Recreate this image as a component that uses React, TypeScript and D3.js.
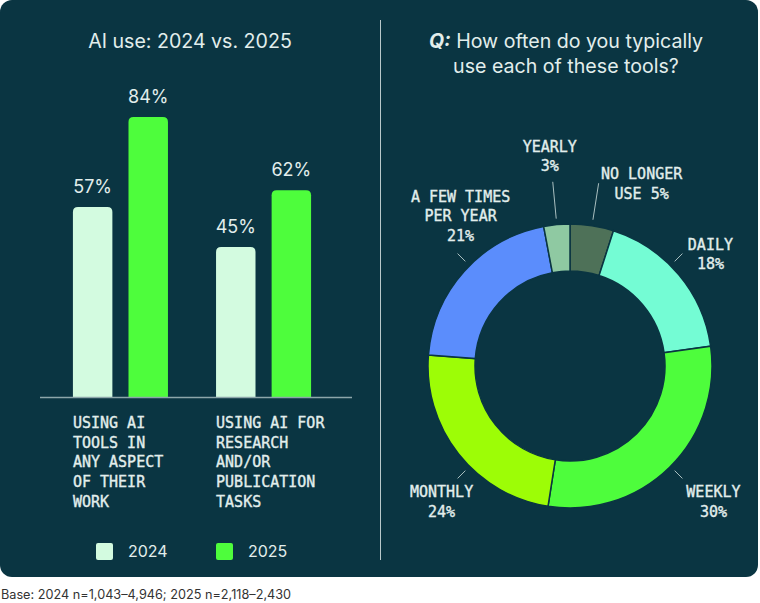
import * as d3 from "d3";

// ---- data ----
const groupLines = [
  ["USING AI", "TOOLS IN", "ANY ASPECT", "OF THEIR", "WORK"],
  ["USING AI FOR", "RESEARCH", "AND/OR", "PUBLICATION", "TASKS"],
];
const groupKeys = ["any", "research"];
const years = ["2024", "2025"];
const values2024 = [57, 45];
const values2025 = [84, 62];

const freqCategories = ["No longer use", "Daily", "Weekly", "Monthly", "A few times per year", "Yearly"];
const freqValues = [5, 18, 30, 24, 21, 3];
const freqLabelLines = [
  ["NO LONGER", "USE 5%"],
  ["DAILY", "18%"],
  ["WEEKLY", "30%"],
  ["MONTHLY", "24%"],
  ["A FEW TIMES", "PER YEAR", "21%"],
  ["YEARLY", "3%"],
];

// ---- styling ----
const W = 760;
const H = 603;
const BG = "#0a3542";
const TEXT = "#e2eeec";
const barColors: Record<string, string> = { "2024": "#d3fbe0", "2025": "#4efd3c" };
const sliceColors = ["#4e7158", "#74fcd4", "#4efd3c", "#9dfd06", "#5b8dfc", "#8fc9a2"];
const SANS = "Inter, 'Noto Sans', sans-serif";
const MONO = "'DejaVu Sans Mono', monospace";

// text nudges around leader-line ends (center x offset, first baseline offset)
const labelNudge: Record<string, [number, number]> = {
  "No longer use": [43, -4],
  Daily: [28, -4],
  Weekly: [31, 19],
  Monthly: [-16, 19],
  "A few times per year": [3, -52],
  Yearly: [-3, -30],
};

function topRounded(x: number, y: number, w: number, h: number, r: number) {
  return `M${x},${y + h}V${y + r}Q${x},${y} ${x + r},${y}H${x + w - r}Q${x + w},${y} ${x + w},${y + r}V${y + h}Z`;
}

export default function App() {
  // bar chart scales
  const baseY = 397;
  const y = d3.scaleLinear().domain([0, 100]).range([baseY, baseY - 333.3]);
  const x0 = d3.scaleBand().domain(groupKeys).range([40, 344]).paddingInner(0.336).paddingOuter(0.23);
  const x1 = d3.scaleBand().domain(years).range([0, x0.bandwidth()]).paddingInner(0.29);
  const series: Record<string, number[]> = { "2024": values2024, "2025": values2025 };

  // donut
  const cx = 570;
  const cy = 366;
  const outerR = 142;
  const innerR = 95;
  const pie = d3.pie<number>().sort(null).value((d) => d);
  const arcs = pie(freqValues);
  const arc = d3.arc<d3.PieArcDatum<number>>().innerRadius(innerR).outerRadius(outerR);

  const diagonals = [Math.PI / 4, (3 * Math.PI) / 4, (5 * Math.PI) / 4, (7 * Math.PI) / 4];

  const monoStyle = { fill: TEXT, fontFamily: MONO, fontSize: 15, stroke: TEXT, strokeWidth: 0.35 };

  return (
    <div style={{ position: "absolute", left: 0, top: 0 }}>
      <svg width={W} height={H} style={{ display: "block", background: "#fff" }}>
        <rect x={0} y={0} width={758} height={577} rx={12} fill={BG} />
        <line x1={380.5} x2={380.5} y1={20} y2={560} stroke="#b9c9ca" strokeWidth={1} />

        {/* left panel */}
        <text x={190} y={48} textAnchor="middle" fill={TEXT} fontFamily={SANS} fontSize={19.6}>
          AI use: 2024 vs. 2025
        </text>
        {groupKeys.map((g, gi) => (
          <g key={g} transform={`translate(${x0(g)},0)`}>
            {years.map((yr) => {
              const v = series[yr][gi];
              const bx = x1(yr)!;
              return (
                <g key={yr}>
                  <path d={topRounded(bx, y(v), x1.bandwidth(), baseY - y(v), 5)} fill={barColors[yr]} />
                  <text
                    x={bx + x1.bandwidth() / 2}
                    y={y(v) - 14}
                    textAnchor="middle"
                    fill={TEXT}
                    fontFamily={SANS}
                    fontSize={18}
                  >
                    {v}%
                  </text>
                </g>
              );
            })}
            {groupLines[gi].map((ln, li) => (
              <text key={li} x={0} y={428 + li * 19.7} style={monoStyle}>
                {ln}
              </text>
            ))}
          </g>
        ))}
        <line x1={40} x2={352} y1={baseY + 0.5} y2={baseY + 0.5} stroke="#8da6aa" strokeWidth={1.5} />

        {/* legend */}
        {years.map((yr, i) => (
          <g key={yr} transform={`translate(${96 + i * 120},543)`}>
            <rect width={17} height={17} rx={2} fill={barColors[yr]} />
            <text x={32} y={14} fill={TEXT} fontFamily={SANS} fontSize={16}>
              {yr}
            </text>
          </g>
        ))}

        {/* right panel */}
        <text x={566} y={48} textAnchor="middle" fill={TEXT} fontFamily={SANS} fontSize={19.6}>
          <tspan fontWeight="bold" fontStyle="italic">Q:</tspan> How often do you typically
        </text>
        <text x={566} y={73} textAnchor="middle" fill={TEXT} fontFamily={SANS} fontSize={19.6}>
          use each of these tools?
        </text>

        <g transform={`translate(${cx},${cy})`}>
          {arcs.map((a, i) => (
            <path key={i} d={arc(a) || ""} fill={sliceColors[i]} stroke={BG} strokeWidth={1.5} />
          ))}
          {arcs.map((a, i) => {
            const mid = (a.startAngle + a.endAngle) / 2;
            const diag = diagonals.find((d) => d > a.startAngle && d < a.endAngle);
            const ang = diag !== undefined ? diag : mid;
            const small = diag === undefined;
            const r1 = outerR + 6;
            const r2 = small ? outerR + 43 : outerR + 17;
            const sx = Math.sin(ang);
            const sy = -Math.cos(ang);
            const ex = sx * r2;
            const ey = sy * r2;
            const [dx, dy] = labelNudge[freqCategories[i]];
            return (
              <g key={`l${i}`}>
                <line x1={sx * r1} y1={sy * r1} x2={ex} y2={ey} stroke="#a9bfc0" strokeWidth={1} />
                {freqLabelLines[i].map((ln, li) => (
                  <text key={li} x={ex + dx} y={ey + dy + li * 19.5} textAnchor="middle" style={monoStyle}>
                    {ln}
                  </text>
                ))}
              </g>
            );
          })}
        </g>

        <text x={1} y={599} fill="#333" fontFamily={SANS} fontSize={12.7}>
          Base: 2024 n=1,043–4,946; 2025 n=2,118–2,430
        </text>
      </svg>
    </div>
  );
}
